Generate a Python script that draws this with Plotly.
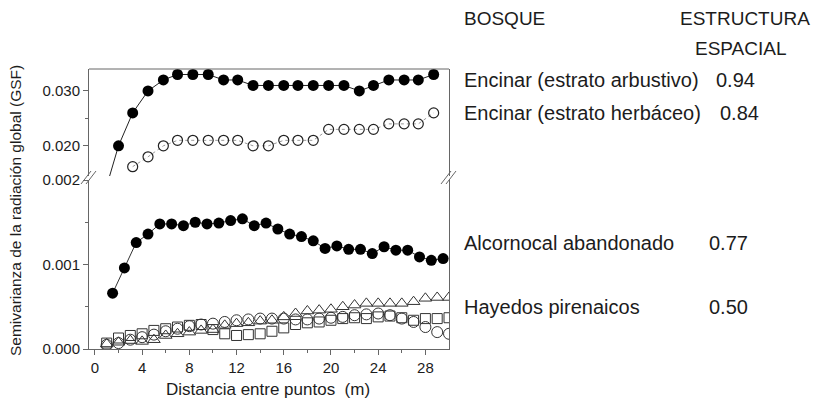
import plotly.graph_objects as go

# ---------------- data ----------------
# Upper panel (Encinar), lag distances in m
arb_x = [0.7, 2.0, 3.2, 4.5, 5.8, 7.0, 8.3, 9.6, 10.9, 12.1, 13.4, 14.7, 16.0, 17.2,
         18.5, 19.8, 21.1, 22.4, 23.6, 24.9, 26.2, 27.4, 28.7]
arb_y = [0.0105, 0.020, 0.026, 0.030, 0.032, 0.033, 0.033, 0.033, 0.032, 0.032, 0.031,
         0.031, 0.031, 0.031, 0.031, 0.031, 0.031, 0.030, 0.031, 0.032, 0.032, 0.032, 0.033]

herb_x = [3.2, 4.5, 5.8, 7.0, 8.3, 9.6, 10.9, 12.1, 13.4, 14.7, 16.0, 17.2,
          18.5, 19.8, 21.1, 22.4, 23.6, 24.9, 26.2, 27.4, 28.7]
herb_y = [0.0162, 0.018, 0.020, 0.021, 0.021, 0.021, 0.021, 0.021, 0.020, 0.020, 0.021,
          0.021, 0.021, 0.023, 0.023, 0.023, 0.023, 0.024, 0.024, 0.024, 0.026]

# Lower panel
alc_x = [1.5, 2.5, 3.5, 4.5, 5.5, 6.5, 7.5, 8.5, 9.5, 10.5, 11.5, 12.5, 13.5, 14.5, 15.5,
         16.5, 17.5, 18.5, 19.5, 20.5, 21.5, 22.5, 23.5, 24.5, 25.5, 26.5, 27.5, 28.5, 29.5]
alc_y = [0.00066, 0.00096, 0.00126, 0.00136, 0.00148, 0.00148, 0.00146, 0.00150, 0.00148,
         0.00149, 0.00152, 0.00154, 0.00146, 0.00149, 0.00142, 0.00136, 0.00133, 0.00128,
         0.00119, 0.00122, 0.00118, 0.00118, 0.00113, 0.00121, 0.00117, 0.00117, 0.00109,
         0.00105, 0.00107]

hay_x = [1, 2, 3, 4, 5, 6, 7, 8, 9, 10, 11, 12, 13, 14, 15, 16, 17, 18, 19, 20,
         21, 22, 23, 24, 25, 26, 27, 28, 29, 30]
hay_tri = [0.00006, 0.00008, 0.00010, 0.00009, 0.00011, 0.00016, 0.00018, 0.00020, 0.00022,
           0.00023, 0.00028, 0.00030, 0.00031, 0.00033, 0.00034, 0.00038, 0.00042, 0.00045,
           0.00046, 0.00047, 0.00050, 0.00052, 0.00054, 0.00054, 0.00054, 0.00054, 0.00056,
           0.00060, 0.00061, 0.00061]
hay_circ = [0.00005, 0.00007, 0.00011, 0.00014, 0.00017, 0.00021, 0.00024, 0.00027, 0.00029,
            0.00030, 0.00032, 0.00034, 0.00035, 0.00036, 0.00036, 0.00036, 0.00035, 0.00035,
            0.00036, 0.00037, 0.00038, 0.00040, 0.00041, 0.00042, 0.00040, 0.00036, 0.00032,
            0.00026, 0.00020, 0.00018]
hay_sq = [0.00007, 0.00013, 0.00016, 0.00018, 0.00022, 0.00024, 0.00026, 0.00028, 0.00029,
          0.00023, 0.00018, 0.00016, 0.00017, 0.00018, 0.00021, 0.00025, 0.00029, 0.00031,
          0.00032, 0.00034, 0.00036, 0.00037, 0.00036, 0.00038, 0.00039, 0.00037, 0.00034,
          0.00036, 0.00036, 0.00037]

x_ticks = [0, 4, 8, 12, 16, 20, 24, 28]
upper_ticks = [0.020, 0.030]
upper_ticktext = ["0.020", "0.030"]
lower_ticks = [0.000, 0.001, 0.002]
lower_ticktext = ["0.000", "0.001", "0.002"]

legend_rows = [("Encinar (estrato arbustivo)", "0.94", 80),
               ("Encinar (estrato herbáceo)", "0.84", 113),
               ("Alcornocal abandonado", "0.77", 243),
               ("Hayedos pirenaicos", "0.50", 307)]

# ---------------- layout geometry ----------------
W, H = 815, 410
L, R, T, B = 89, 366, 69, 61
PW, PH = W - L - R, H - T - B

def px(x):
    return (x - L) / PW

def py(y):
    return (H - B - y) / PH

FONT = "Liberation Sans, Arial, sans-serif"
INK = "#1c1c1c"
AX = "#666666"

fig = go.Figure()

fig.add_trace(go.Scatter(x=arb_x, y=arb_y, xaxis="x", yaxis="y2", mode="lines+markers",
                         line=dict(color="#222222", width=1),
                         marker=dict(symbol="circle", size=11, color="black"),
                         cliponaxis=True, showlegend=False))
fig.add_trace(go.Scatter(x=herb_x, y=herb_y, xaxis="x", yaxis="y2", mode="lines+markers",
                         line=dict(color="#999999", width=1, dash="dot"),
                         marker=dict(symbol="circle-open", size=10, color="#222222",
                                     line=dict(width=1.2)),
                         showlegend=False))

fig.add_trace(go.Scatter(x=hay_x, y=hay_tri, mode="markers",
                         marker=dict(symbol="triangle-up-open", size=11, color="#333333",
                                     line=dict(width=1)), showlegend=False))
fig.add_trace(go.Scatter(x=hay_x, y=hay_circ, mode="markers",
                         marker=dict(symbol="circle-open", size=11, color="#333333",
                                     line=dict(width=1)), showlegend=False))
fig.add_trace(go.Scatter(x=hay_x, y=hay_sq, mode="markers",
                         marker=dict(symbol="square-open", size=10, color="#333333",
                                     line=dict(width=1)), showlegend=False))
fig.add_trace(go.Scatter(x=alc_x, y=alc_y, mode="lines+markers",
                         line=dict(color="#333333", width=1),
                         marker=dict(symbol="circle", size=11, color="black"),
                         showlegend=False))

low_top = py(180)
up_bot = py(176)

fig.update_layout(
    width=W, height=H,
    margin=dict(l=L, r=R, t=T, b=B),
    paper_bgcolor="white", plot_bgcolor="white",
    font=dict(family=FONT, color=INK, size=15),
    xaxis=dict(range=[-0.5, 30], domain=[0, 1], anchor="y",
               tickvals=x_ticks, ticks="outside", ticklen=5, tickcolor=AX,
               showline=True, linecolor=AX, linewidth=1, showgrid=False, zeroline=False,
               tickfont=dict(size=15),
               minor=dict(tickvals=[2, 6, 10, 14, 18, 22, 26], ticks="outside",
                          ticklen=3, tickcolor=AX)),
    yaxis=dict(range=[0, 0.002], domain=[0, low_top], anchor="x",
               tickvals=lower_ticks, ticktext=lower_ticktext, ticks="outside", ticklen=5,
               tickcolor=AX, showline=True, mirror=True, linecolor=AX, linewidth=1,
               showgrid=False, zeroline=False, tickfont=dict(size=15),
               minor=dict(tickvals=[0.0005, 0.0015], ticks="outside", ticklen=3,
                          tickcolor=AX)),
    yaxis2=dict(range=[0.0145, 0.034], domain=[up_bot, 1], anchor="x",
                tickvals=upper_ticks, ticktext=upper_ticktext, ticks="outside", ticklen=5,
                tickcolor=AX, showline=True, mirror=True, linecolor=AX, linewidth=1,
                showgrid=False, zeroline=False, tickfont=dict(size=15),
                minor=dict(tickvals=[0.025], ticks="outside", ticklen=3, tickcolor=AX)),
)

shapes = []
# top frame line of upper panel
shapes.append(dict(type="line", xref="paper", yref="paper", x0=0, x1=1, y0=1, y1=1,
                   line=dict(color=AX, width=1)))
# axis break marks (left and right)
for cx in (89, 449):
    for dx in (-3, 2):
        shapes.append(dict(type="line", xref="paper", yref="paper",
                           x0=px(cx + dx - 5), y0=py(184), x1=px(cx + dx + 5), y1=py(171),
                           line=dict(color=AX, width=1)))
fig.update_layout(shapes=shapes)

ann = []
ann.append(dict(text="Semivarianza de la radiación global (GSF)", xref="paper", yref="paper",
                x=px(15), y=py(211), textangle=-90, showarrow=False,
                font=dict(size=15.5, color=INK), xanchor="center", yanchor="middle"))
ann.append(dict(text="Distancia entre puntos\u00a0\u00a0(m)", xref="paper", yref="paper",
                x=px(268), y=py(389), showarrow=False, font=dict(size=17, color=INK),
                xanchor="center", yanchor="middle"))
ann.append(dict(text="BOSQUE", xref="paper", yref="paper", x=px(462), y=py(19),
                showarrow=False, font=dict(size=19, color=INK), xanchor="left",
                yanchor="middle"))
ann.append(dict(text="ESTRUCTURA", xref="paper", yref="paper", x=px(745), y=py(19),
                showarrow=False, font=dict(size=19, color=INK), xanchor="center",
                yanchor="middle"))
ann.append(dict(text="ESPACIAL", xref="paper", yref="paper", x=px(741), y=py(48),
                showarrow=False, font=dict(size=19, color=INK), xanchor="center",
                yanchor="middle"))
val_x = [714, 718, 707, 707]
for (name, val, yy), vx in zip(legend_rows, val_x):
    ann.append(dict(text=name, xref="paper", yref="paper", x=px(462), y=py(yy),
                    showarrow=False, font=dict(size=20, color=INK), xanchor="left",
                    yanchor="middle"))
    ann.append(dict(text=val, xref="paper", yref="paper", x=px(vx), y=py(yy),
                    showarrow=False, font=dict(size=20, color=INK), xanchor="left",
                    yanchor="middle"))
fig.update_layout(annotations=ann)

fig.write_html("out.html")
